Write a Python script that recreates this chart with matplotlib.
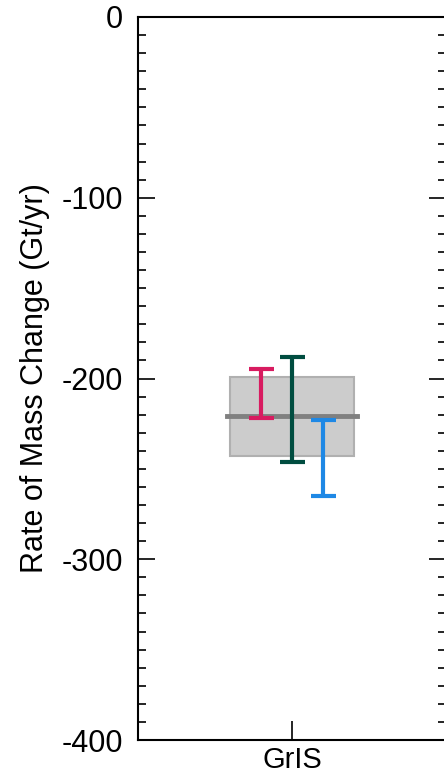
import matplotlib.pyplot as plt
from matplotlib.ticker import MultipleLocator

plt.rcParams['font.family'] = ['Liberation Sans', 'DejaVu Sans']
plt.rcParams['axes.unicode_minus'] = False

category = 'GrIS'
# combined estimate (mean and range)
box_low, box_high = -243, -199
box_mean = -221
# individual estimates: (low, high)
est_low = [-222, -246, -265]
est_high = [-195, -188, -223]
est_offset = [-0.2, 0.0, 0.2]
est_colors = ['#D81B60', '#004D40', '#1E88E5']

fig = plt.figure(figsize=(4.44, 7.74), dpi=100)
ax = fig.add_axes([138 / 444, 34 / 774, 308 / 444, 723 / 774])

ax.add_patch(plt.Rectangle((-0.4, box_low), 0.8, box_high - box_low,
                           facecolor='#cccccc', edgecolor='#b0b0b0', lw=1.5, zorder=1))
ax.plot([-0.42, 0.42], [box_mean, box_mean], color='#808080', lw=3.5, zorder=2)

for lo, hi, off, c in zip(est_low, est_high, est_offset, est_colors):
    mid = (lo + hi) / 2
    ax.errorbar(off, mid, yerr=[[mid - lo], [hi - mid]], fmt='none', ecolor=c,
                elinewidth=3, capsize=9, capthick=3, zorder=3)

ax.set_xlim(-1, 1)
ax.set_ylim(-400, 0)
ax.set_xticks([0])
ax.set_xticklabels([category])
ax.yaxis.set_major_locator(MultipleLocator(100))
ax.yaxis.set_minor_locator(MultipleLocator(10))
ax.tick_params(axis='y', which='major', direction='in', length=12, width=1.2,
               left=True, right=True, labelsize=22, pad=11)
ax.tick_params(axis='y', which='minor', direction='in', length=5.5, width=1.2,
               left=True, right=True)
ax.tick_params(axis='x', direction='in', length=14, width=1.2, labelsize=21, pad=4)
for s in ax.spines.values():
    s.set_linewidth(1.5)
ax.set_ylabel('Rate of Mass Change (Gt/yr)', fontsize=22, labelpad=8)

fig.savefig('out.png', dpi=100)
